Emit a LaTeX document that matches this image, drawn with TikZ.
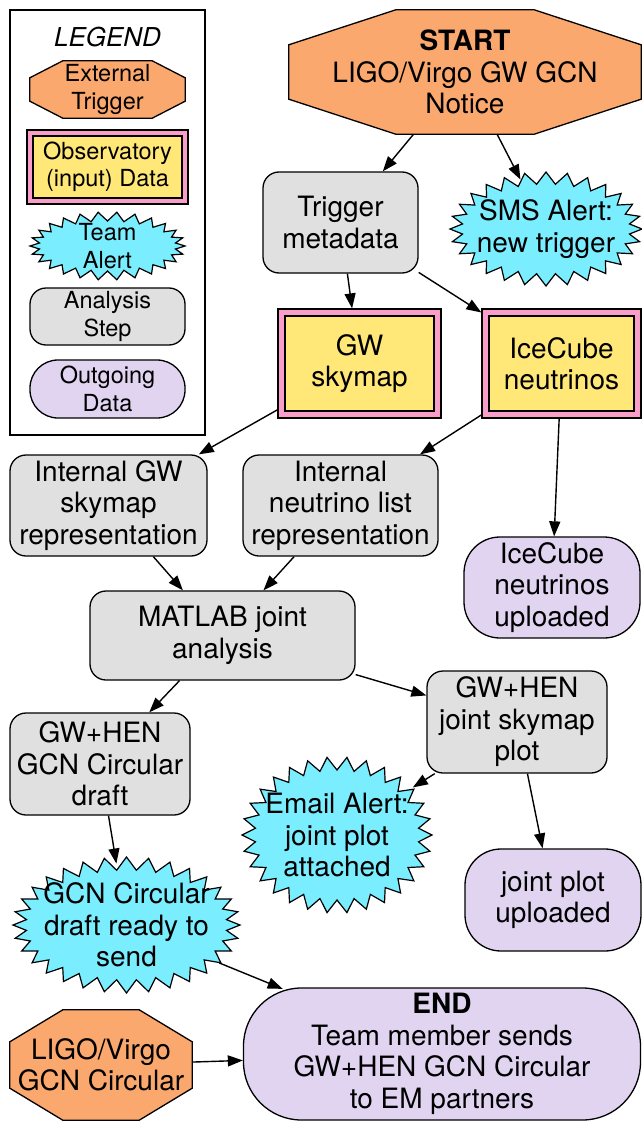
\documentclass[tikz,border=0pt]{standalone}
\usepackage{fontspec}
\setmainfont{TeX Gyre Heros}
\usetikzlibrary{arrows.meta,shapes.geometric}
\pgfdeclarelayer{background}
\pgfsetlayers{background,main}
\definecolor{orangec}{RGB}{250,168,110}
\definecolor{pinkc}{RGB}{248,158,200}
\definecolor{yellowc}{RGB}{255,232,120}
\definecolor{cyanc}{RGB}{122,238,255}
\definecolor{grayc}{RGB}{224,224,224}
\definecolor{lavc}{RGB}{224,212,240}
\tikzset{
  base/.style={align=center, inner sep=0pt, font=\fontsize{28}{31.5}\selectfont},
  legtxt/.style={font=\fontsize{23.5}{27.5}\selectfont},
  analysis/.style={base, draw, line width=1.3pt, fill=grayc, rounded corners=16pt},
  outgoing/.style={base, draw, line width=1.3pt, fill=lavc, rounded corners=#1},
  obsdata/.style={base, draw, line width=1.2pt, fill=pinkc,
    path picture={\draw[line width=1.8pt, fill=yellowc]
      ([shift={(#1,-#1)}]path picture bounding box.north west) rectangle
      ([shift={(-#1,#1)}]path picture bounding box.south east);}},
  octtext/.style={base, draw=none},
  octfill/.style={draw, line width=1.3pt, fill=orangec, line join=miter},
  burstnode/.style={base, ellipse, draw=none},
  burstfill/.style={draw, line width=1.2pt, fill=cyanc, line join=miter},
  arr/.style={line width=1.4pt, -{Triangle[length=15pt,width=11pt]}},
}
\newcommand\octo[3]{\begin{pgfonlayer}{background}\filldraw[octfill]
  ([xshift=#2]#1.north west) -- ([xshift=-#2]#1.north east) --
  ([yshift=-#3]#1.north east) -- ([yshift=#3]#1.south east) --
  ([xshift=-#2]#1.south east) -- ([xshift=#2]#1.south west) --
  ([yshift=#3]#1.south west) -- ([yshift=-#3]#1.north west) -- cycle;\end{pgfonlayer}}
\newcommand\burst[6]{\filldraw[burstfill] (#1+#3,#2)
  \foreach \kk in {1,...,#6}{ -- ({#1+(#3-mod(\kk,2)*#5)*cos((\kk/#6)*360)}, {#2+(#4-mod(\kk,2)*#5)*sin((\kk/#6)*360)}) } -- cycle;}
\begin{document}
\begin{tikzpicture}[x=1pt, y=-1pt]
\useasboundingbox (0,0) rectangle (642,1121);

% ---------------- legend ----------------
\draw[line width=1.2pt] (10,10) rectangle (205,435);
\node[base, font=\fontsize{26}{30}\selectfont\itshape] (legtitle) at (107.5,37) {LEGEND};
\node[octtext, legtxt, minimum width=155pt, minimum height=57pt] (legext) at (107.5,89.5) {External\\Trigger};
\octo{legext}{33pt}{17pt}
\node[obsdata=6pt, legtxt, minimum width=161pt, minimum height=74pt] (legobs) at (107.5,167) {Observatory\\(input) Data};
\burst{107.5}{246}{77.5}{34}{9}{52}
\node[burstnode, legtxt, minimum width=146pt, minimum height=59pt] (legteam) at (107.5,246) {Team\\Alert};
\node[analysis, legtxt, minimum width=155pt, minimum height=57pt] (legana) at (107.5,316.5) {Analysis\\Step};
\node[outgoing=28pt, legtxt, minimum width=155pt, minimum height=58pt] (legout) at (107.5,389) {Outgoing\\Data};

% ---------------- main flow ----------------
\node[octtext, minimum width=352pt, minimum height=124pt] (start) at (465,72) {\textbf{START}\\LIGO/Virgo GW GCN\\Notice};
\octo{start}{107pt}{35pt}

\node[analysis, minimum width=155pt, minimum height=101pt] (trig) at (340.5,222.5) {Trigger\\metadata};

\burst{546}{229}{96}{57}{12}{56}
\node[burstnode, minimum width=180pt, minimum height=102pt] (sms) at (546,229) {SMS Alert:\\new trigger};

\node[obsdata=7pt, minimum width=163pt, minimum height=109pt] (gwsky) at (359.5,363.5) {GW\\skymap};
\node[obsdata=7pt, minimum width=159pt, minimum height=109pt] (icecube) at (561.5,363.5) {IceCube\\neutrinos};

\node[analysis, minimum width=197pt, minimum height=101pt] (intgw) at (108.5,505.5) {Internal GW\\skymap\\representation};
\node[analysis, minimum width=195pt, minimum height=101pt] (intnu) at (340.5,505.5) {Internal\\neutrino list\\representation};
\node[outgoing=36pt, minimum width=176pt, minimum height=101pt] (icup) at (552,587.5) {IceCube\\neutrinos\\uploaded};

\node[analysis, minimum width=265pt, minimum height=89pt] (matlab) at (222.5,635.5) {MATLAB joint\\analysis};

\node[analysis, minimum width=180pt, minimum height=102pt] (jsky) at (517,722) {GW+HEN\\joint skymap\\plot};
\node[analysis, minimum width=180pt, minimum height=102pt] (draft) at (100,764) {GW+HEN\\GCN Circular\\draft};

\burst{337}{835}{95}{78}{13}{60}
\node[burstnode, minimum width=177pt, minimum height=143pt] (email) at (337,835) {Email Alert:\\joint plot\\attached};

\node[outgoing=36pt, minimum width=176pt, minimum height=102pt] (jplot) at (553,900) {joint plot\\uploaded};

\burst{126.5}{925}{113.5}{68}{13}{64}
\node[burstnode, minimum width=214pt, minimum height=123pt] (gcnb) at (126.5,925) {GCN Circular\\draft ready to\\send};

\node[outgoing=58pt, minimum width=397pt, minimum height=132pt] (end) at (442,1054) {\textbf{END}\\Team member sends\\GW+HEN GCN Circular\\to EM partners};

\node[octtext, minimum width=182pt, minimum height=110pt] (ligo) at (101,1065) {LIGO/Virgo\\GCN Circular};
\octo{ligo}{53pt}{32pt}

% ---------------- connectors ----------------
\draw[arr] (start) -- (trig);
\draw[arr] (start) -- (sms);
\draw[arr] (trig) -- (gwsky);
\draw[arr] (trig) -- (icecube);
\draw[arr] (gwsky) -- (intgw);
\draw[arr] (icecube) -- (intnu);
\draw[arr] (icecube) -- (icup);
\draw[arr] (intgw) -- (matlab);
\draw[arr] (intnu) -- (matlab);
\draw[arr] (matlab) -- (draft);
\draw[arr] (matlab) -- (jsky);
\draw[arr] (jsky) -- (email);
\draw[arr] (jsky) -- (jplot);
\draw[arr] (draft) -- (gcnb);
\draw[arr, shorten >=-4pt] (gcnb) -- (end);
\draw[arr] (ligo) -- (end);
\end{tikzpicture}
\end{document}
